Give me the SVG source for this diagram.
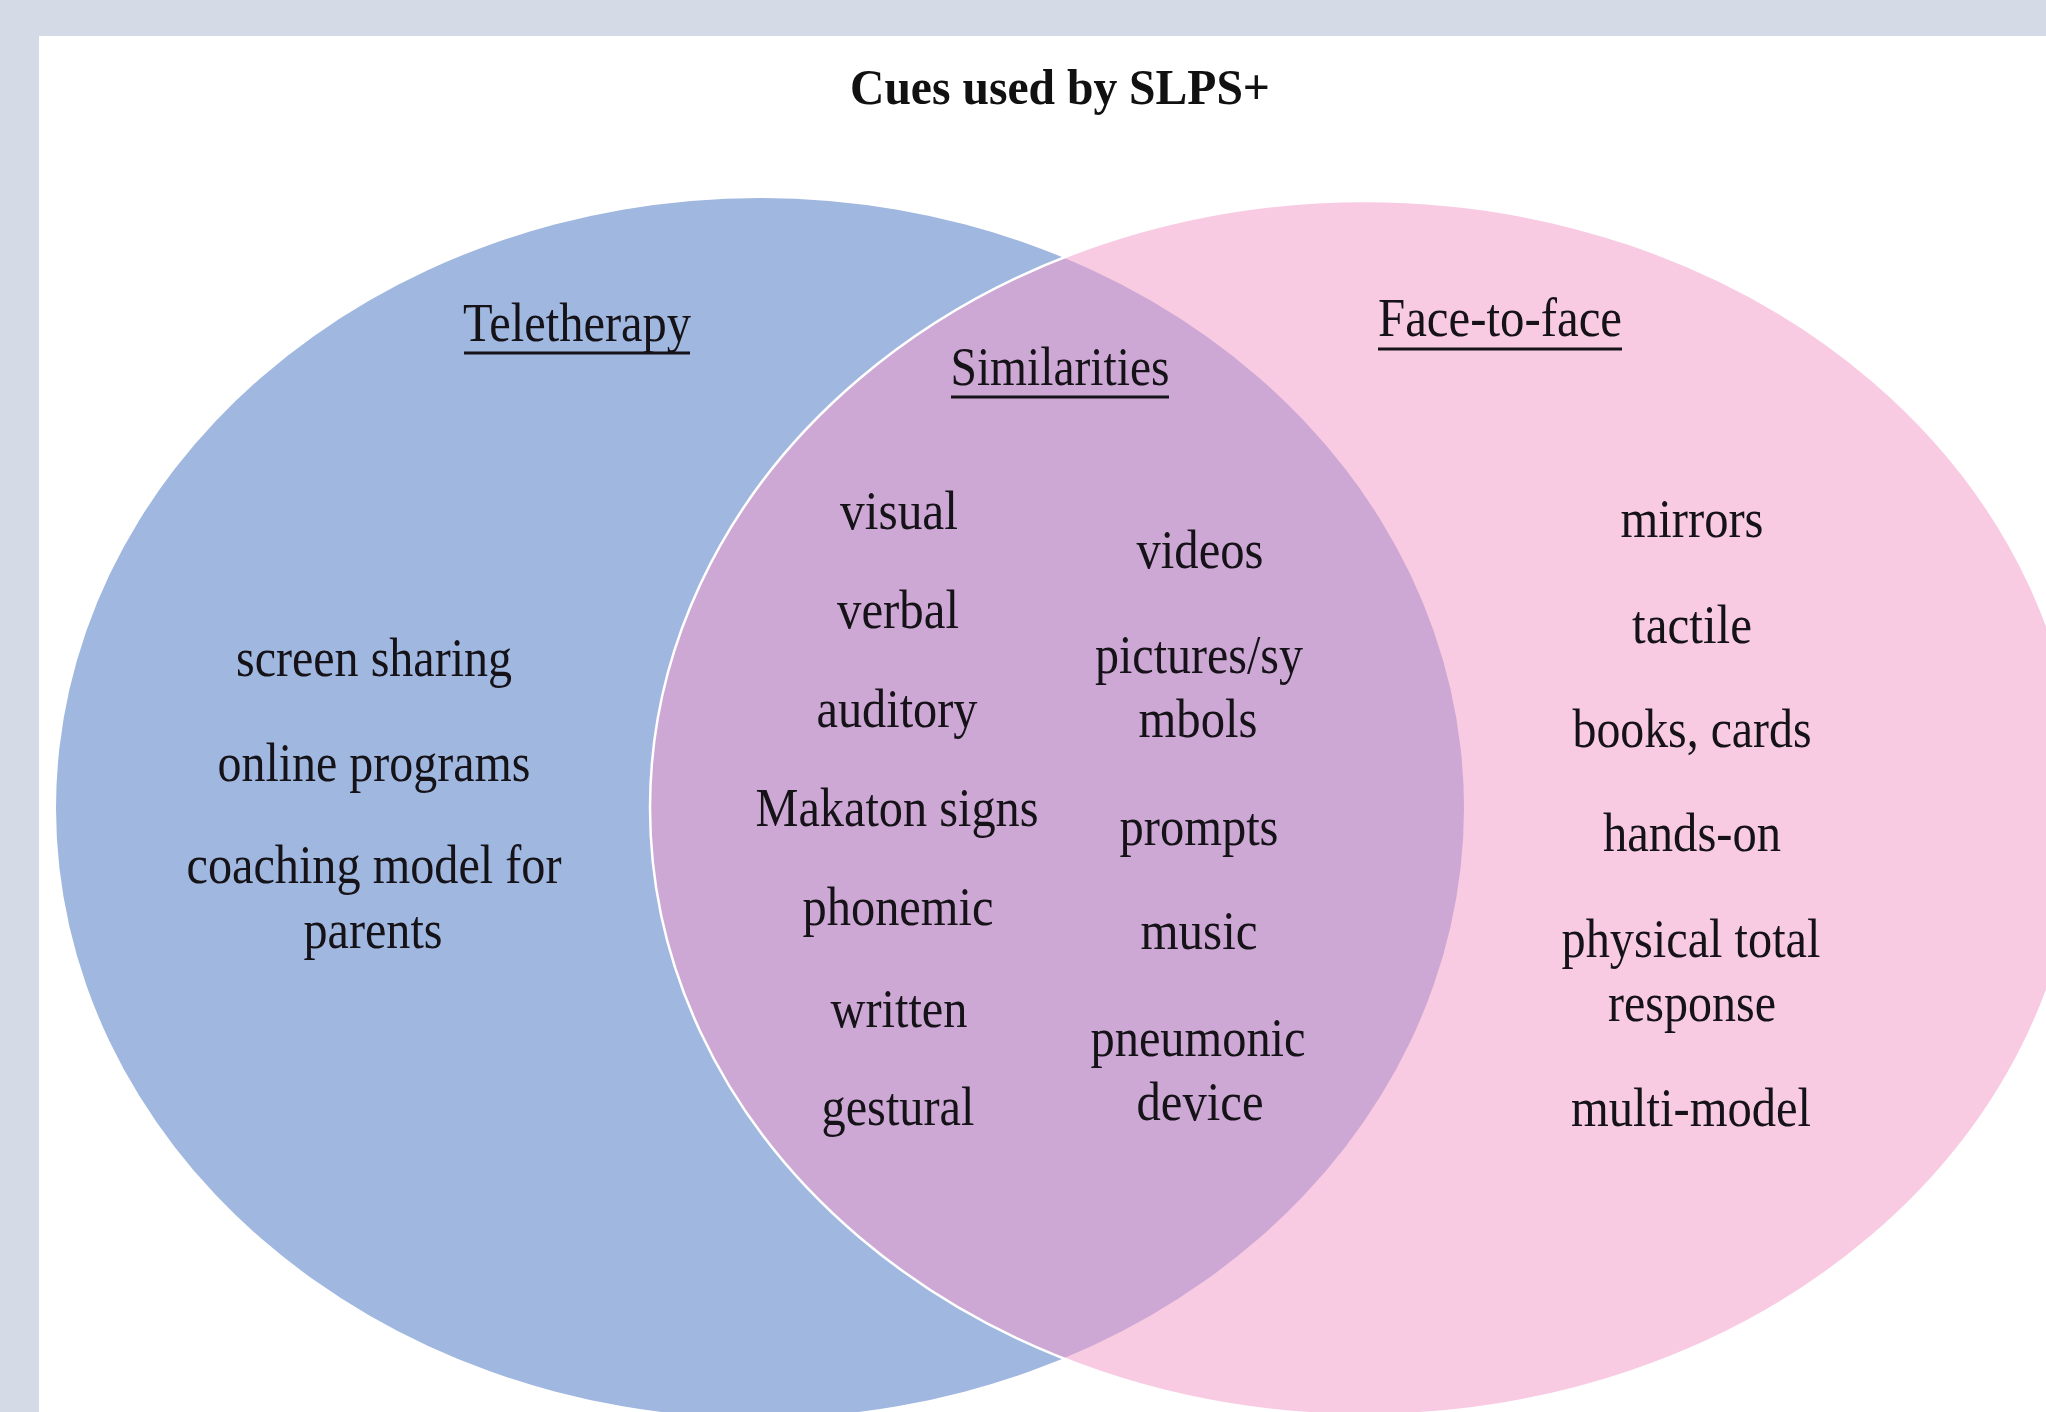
<svg xmlns="http://www.w3.org/2000/svg" width="2046" height="1412" viewBox="0 0 2046 1412">
  <style>
    .lbl { font-family: "Liberation Serif", "Times New Roman", serif; font-size: 54px; fill: #151218; text-anchor: middle; }
    .ttl { font-family: "Liberation Serif", "Times New Roman", serif; font-size: 51px; font-weight: bold; fill: #111; text-anchor: middle; }
    .ul { stroke: #151218; stroke-width: 3; }
  </style>
  <defs>
    <ellipse id="blueShape" cx="760" cy="808" rx="704" ry="610"/>
    <ellipse id="pinkShape" cx="1365" cy="808" rx="715" ry="607"/>
    <clipPath id="pinkClip">
      <use href="#pinkShape"/>
    </clipPath>
  </defs>

  <!-- page frame -->
  <g id="backdrop">
    <rect x="0" y="0" width="2046" height="1412" fill="#d5dbe6"/>
    <rect x="39" y="36" width="2007" height="1376" fill="#ffffff"/>
  </g>

  <g id="title">
    <text class="ttl" x="1060" y="104" textLength="420" lengthAdjust="spacingAndGlyphs">Cues used by SLPS+</text>
  </g>

  <!-- the two sets and their overlap -->
  <g id="set-teletherapy">
    <use href="#blueShape" fill="#a0b7e0"/>
  </g>
  <g id="set-face-to-face">
    <use href="#pinkShape" fill="#f8cbe3"/>
  </g>
  <g id="set-overlap">
    <use href="#blueShape" fill="#cda8d4" clip-path="url(#pinkClip)"/>
    <use href="#pinkShape" fill="none" stroke="#ffffff" stroke-width="2.5"/>
  </g>

  <!-- Teletherapy only -->
  <g id="teletherapy-labels">
    <text class="lbl" x="577" y="341" textLength="228" lengthAdjust="spacingAndGlyphs">Teletherapy</text>
    <line class="ul" x1="464" y1="353" x2="690" y2="353"/>
    <text class="lbl" x="374" y="676" textLength="276" lengthAdjust="spacingAndGlyphs">screen sharing</text>
    <text class="lbl" x="374" y="781" textLength="313" lengthAdjust="spacingAndGlyphs">online programs</text>
    <text class="lbl" x="374" y="883" textLength="375" lengthAdjust="spacingAndGlyphs">coaching model for</text>
    <text class="lbl" x="373" y="948" textLength="139" lengthAdjust="spacingAndGlyphs">parents</text>
  </g>

  <!-- shared cues -->
  <g id="similarities-labels">
    <text class="lbl" x="1060" y="385" textLength="219" lengthAdjust="spacingAndGlyphs">Similarities</text>
    <line class="ul" x1="951" y1="397" x2="1169" y2="397"/>

    <text class="lbl" x="899" y="529" textLength="118" lengthAdjust="spacingAndGlyphs">visual</text>
    <text class="lbl" x="898" y="628" textLength="122" lengthAdjust="spacingAndGlyphs">verbal</text>
    <text class="lbl" x="897" y="727" textLength="161" lengthAdjust="spacingAndGlyphs">auditory</text>
    <text class="lbl" x="897" y="826" textLength="283" lengthAdjust="spacingAndGlyphs">Makaton signs</text>
    <text class="lbl" x="898" y="925" textLength="191" lengthAdjust="spacingAndGlyphs">phonemic</text>
    <text class="lbl" x="899" y="1027" textLength="137" lengthAdjust="spacingAndGlyphs">written</text>
    <text class="lbl" x="898" y="1125" textLength="153" lengthAdjust="spacingAndGlyphs">gestural</text>

    <text class="lbl" x="1200" y="568" textLength="127" lengthAdjust="spacingAndGlyphs">videos</text>
    <text class="lbl" x="1199" y="673" textLength="208" lengthAdjust="spacingAndGlyphs">pictures/sy</text>
    <text class="lbl" x="1198" y="737" textLength="119" lengthAdjust="spacingAndGlyphs">mbols</text>
    <text class="lbl" x="1199" y="845" textLength="159" lengthAdjust="spacingAndGlyphs">prompts</text>
    <text class="lbl" x="1199" y="949" textLength="117" lengthAdjust="spacingAndGlyphs">music</text>
    <text class="lbl" x="1198" y="1056" textLength="215" lengthAdjust="spacingAndGlyphs">pneumonic</text>
    <text class="lbl" x="1200" y="1120" textLength="127" lengthAdjust="spacingAndGlyphs">device</text>
  </g>

  <!-- Face-to-face only -->
  <g id="face-to-face-labels">
    <text class="lbl" x="1500" y="336" textLength="244" lengthAdjust="spacingAndGlyphs">Face-to-face</text>
    <line class="ul" x1="1378" y1="349" x2="1622" y2="349"/>
    <text class="lbl" x="1692" y="537" textLength="143" lengthAdjust="spacingAndGlyphs">mirrors</text>
    <text class="lbl" x="1692" y="643" textLength="120" lengthAdjust="spacingAndGlyphs">tactile</text>
    <text class="lbl" x="1692" y="747" textLength="239" lengthAdjust="spacingAndGlyphs">books, cards</text>
    <text class="lbl" x="1692" y="851" textLength="178" lengthAdjust="spacingAndGlyphs">hands-on</text>
    <text class="lbl" x="1691" y="957" textLength="259" lengthAdjust="spacingAndGlyphs">physical total</text>
    <text class="lbl" x="1692" y="1021" textLength="168" lengthAdjust="spacingAndGlyphs">response</text>
    <text class="lbl" x="1691" y="1126" textLength="240" lengthAdjust="spacingAndGlyphs">multi-model</text>
  </g>
</svg>
